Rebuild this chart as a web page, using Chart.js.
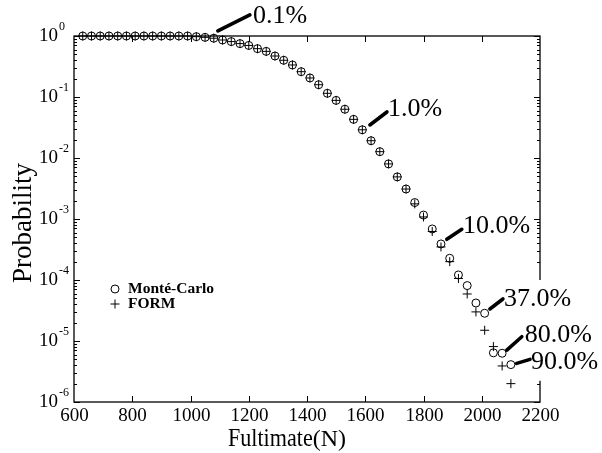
<!DOCTYPE html>
<html><head><meta charset="utf-8">
<script src="https://cdn.jsdelivr.net/npm/chart.js@4/dist/chart.umd.min.js"></script>
<style>html,body{margin:0;padding:0;background:#fff}#wrap{width:602px;height:453px;position:relative}</style>
</head><body><div id="wrap"><canvas id="c"></canvas></div>
<script>
// Ultimate force (N)
const forces = [630,660,690,720,750,780,810,840,870,900,930,960,990,
  1020,1050,1080,1110,1140,1170,1200,1230,1260,1290,1320,1350,1380,1410,1440,1470,1500,
  1530,1560,1590,1620,1650,1680,1710,1740,1770,1800,1830,1860,1890,1920,1950,1980,2010,2040,2070,2100];
const monteCarlo = [1,1,1,1,1,1,1,1,1,1,1,1,1,
  0.975,0.95,0.92,0.86,0.81,0.75,0.70,0.62,0.56,0.47,0.40,0.335,0.26,0.205,0.159,0.115,0.088,
  0.063,0.043,0.029,0.0192,0.0127,0.008,0.0049,0.0031,0.00186,0.00116,0.000686,0.00039,0.000227,0.000121,8.1e-5,4.2e-5,2.85e-5,6.4e-6,6.3e-6,4.1e-6];
const form = [1,1,1,1,1,1,1,1,1,1,1,1,1,
  0.975,0.95,0.92,0.86,0.81,0.75,0.70,0.62,0.56,0.47,0.40,0.335,0.26,0.205,0.159,0.115,0.088,
  0.063,0.043,0.029,0.0192,0.0127,0.008,0.0049,0.0031,0.00177,0.00108,0.000624,0.000348,0.0002,0.000106,5.9e-5,3.0e-5,1.5e-5,8.1e-6,3.9e-6,2.0e-6];
const seriesNames = ['Monté-Carlo','FORM'];
const xTicks = [600,800,1000,1200,1400,1600,1800,2000,2200];
const yTickExponents = [0,-1,-2,-3,-4,-5,-6];
const xTitle = ['Fultimate','(N)'];
const yTitle = 'Probability';
// annotation labels and the (force, probability) their leaders point at
const annotationTexts = ['0.1%','1.0%','10.0%','37.0%','80.0%','90.0%'];
const annotationForce = [1094,1616,1880,2028,2086,2120];
const annotationProb = [1.21,0.0348,4.65e-4,3.35e-5,7.1e-6,4.3e-6];

const SERIF = '"Liberation Serif","Times New Roman",serif';
// leader vector and text offset in px
const annStyle = [
  {dx:32,dy:-16,tx:3,ty:1},
  {dx:17,dy:-13,tx:1,ty:-3},
  {dx:15,dy:-10,tx:1.3,ty:-3.3},
  {dx:13,dy:-10,tx:1,ty:0},
  {dx:15,dy:-13.3,tx:3,ty:-1.7},
  {dx:13.3,dy:-4,tx:1,ty:2.4}
];

function line(ctx,x1,y1,x2,y2){ctx.beginPath();ctx.moveTo(x1,y1);ctx.lineTo(x2,y2);ctx.stroke();}

const framePlugin = {
  id:'frame',
  beforeDatasetsDraw(chart){
    const {ctx, chartArea:a, scales:{x,y}} = chart;
    ctx.save();
    ctx.strokeStyle='#000'; ctx.fillStyle='#000';
    ctx.lineWidth=1.3;
    ctx.strokeRect(a.left, a.top, a.right-a.left, a.bottom-a.top);
    ctx.lineWidth=1;
    // x ticks
    ctx.font='19px '+SERIF; ctx.textAlign='center'; ctx.textBaseline='middle';
    xTicks.forEach(v=>{
      const px=Math.round(x.getPixelForValue(v))+0.5;
      if(v>x.min && v<x.max){ line(ctx,px,a.bottom,px,a.bottom-6); line(ctx,px,a.top,px,a.top+6); }
      ctx.fillText(String(v), px, a.bottom+14);
    });
    // y ticks
    yTickExponents.forEach(e=>{
      const py=Math.round(y.getPixelForValue(Math.pow(10,e)))+0.5;
      line(ctx,a.left,py,a.left+6,py); line(ctx,a.right,py,a.right-6,py);
      if(e>-6){
        for(let m=2;m<=9;m++){
          const q=Math.round(y.getPixelForValue(m*Math.pow(10,e-1)))+0.5;
          line(ctx,a.left,q,a.left+3,q); line(ctx,a.right,q,a.right-3,q);
        }
      }
      ctx.font='19px '+SERIF; ctx.textAlign='right'; ctx.textBaseline='middle';
      ctx.fillText('10', a.left-16, py);
      ctx.font='12px '+SERIF; ctx.textAlign='left';
      ctx.fillText(String(e), a.left-15, py-9.5);
    });
    // x title
    ctx.textBaseline='alphabetic'; ctx.textAlign='left';
    ctx.save();
    ctx.translate(a.left+154, a.bottom+44);
    ctx.scale(0.85,1);
    ctx.font='26px '+SERIF;
    const w=ctx.measureText(xTitle[0]).width;
    ctx.fillText(xTitle[0],0,0);
    ctx.restore();
    ctx.font='24px '+SERIF;
    ctx.fillText(xTitle[1], a.left+154+w*0.85, a.bottom+44);
    // y title
    ctx.save();
    ctx.translate(31, (a.top+a.bottom)/2+4);
    ctx.rotate(-Math.PI/2);
    ctx.font='27px '+SERIF; ctx.textAlign='center';
    ctx.fillText(yTitle,0,0);
    ctx.restore();
    // legend
    const lx=a.left+41, ly=a.top+253;
    ctx.lineWidth=1;
    ctx.beginPath(); ctx.arc(lx,ly,4,0,Math.PI*2); ctx.stroke();
    line(ctx,lx-4.5,ly+15,lx+4.5,ly+15); line(ctx,lx,ly+10.5,lx,ly+19.5);
    ctx.font='bold 15.5px '+SERIF; ctx.textAlign='left'; ctx.textBaseline='middle';
    ctx.fillText(seriesNames[0], lx+13, ly);
    ctx.fillText(seriesNames[1], lx+13, ly+15);
    ctx.restore();
  },
  afterDatasetsDraw(chart){
    const {ctx, scales:{x,y}} = chart;
    ctx.save();
    ctx.font='26px '+SERIF; ctx.textAlign='left'; ctx.textBaseline='middle';
    const items = annotationTexts.map((t,i)=>{
      const sx=x.getPixelForValue(annotationForce[i]), sy=y.getPixelForValue(annotationProb[i]);
      const s=annStyle[i];
      const ex=sx+s.dx, ey=sy+s.dy;
      return {t,sx,sy,ex,ey,tx:ex+s.tx,ty:ey+s.ty,w:ctx.measureText(t).width};
    });
    ctx.fillStyle='#fff';
    items.forEach(it=>{ ctx.fillRect(it.tx-2, it.ty-19, it.w+4, 38); });
    ctx.fillStyle='#000'; ctx.strokeStyle='#000';
    ctx.lineWidth=3.6; ctx.lineCap='round';
    items.forEach(it=>{
      line(ctx,it.sx,it.sy,it.ex,it.ey);
      ctx.fillText(it.t, it.tx, it.ty);
    });
    ctx.restore();
  }
};

new Chart(document.getElementById('c'), {
  type:'scatter',
  data:{
    datasets:[
      {label:seriesNames[0], data:forces.map((f,i)=>({x:f,y:monteCarlo[i]})),
       pointStyle:'circle', pointRadius:4, borderColor:'#000', backgroundColor:'rgba(255,255,255,0)', borderWidth:1, clip:false},
      {label:seriesNames[1], data:forces.map((f,i)=>({x:f,y:form[i]})),
       pointStyle:'cross', pointRadius:4.5, borderColor:'#000', backgroundColor:'#000', borderWidth:1, clip:false}
    ]
  },
  options:{
    responsive:true, maintainAspectRatio:false, animation:false, devicePixelRatio:1,
    layout:{padding:{left:74, right:62, top:36, bottom:51}},
    plugins:{legend:{display:false}, tooltip:{enabled:false}},
    scales:{
      x:{type:'linear', min:600, max:2200, display:false},
      y:{type:'logarithmic', min:1e-6, max:1, display:false}
    }
  },
  plugins:[framePlugin]
});
</script>
</body></html>
